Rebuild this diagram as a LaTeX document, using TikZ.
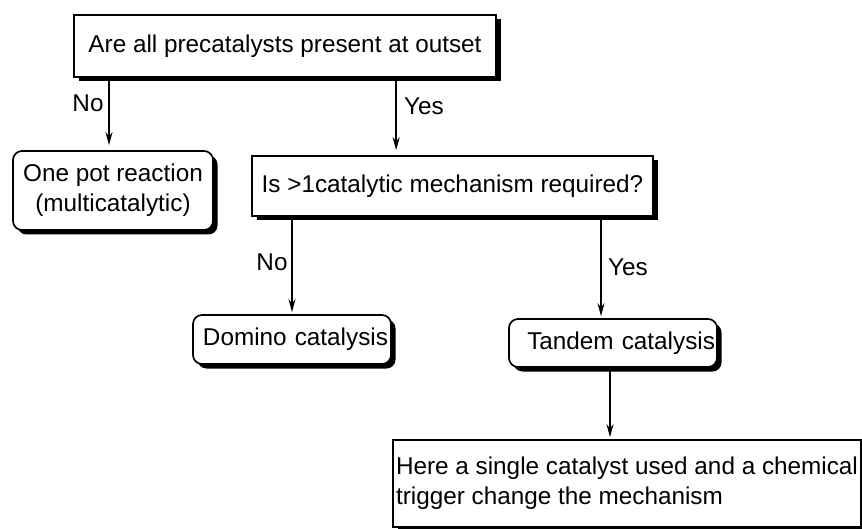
\documentclass[tikz,border=0pt]{standalone}
\usepackage{fontspec}
\setmainfont{Liberation Sans}
\usetikzlibrary{shadows,arrows.meta,calc}
\begin{document}
\begin{tikzpicture}[x=1pt,y=-1pt,
  font=\fontsize{24.3}{30}\selectfont,
  box/.style={draw=black, line width=1.7pt, fill=white, inner sep=0pt,
    drop shadow={shadow xshift=4.5pt, shadow yshift=-4.5pt, fill=black, opacity=1}},
  roundbox/.style={box, rounded corners=9pt},
  arr/.style={line width=1.7pt, -{Stealth[length=13pt,width=7pt]}},
  lbl/.style={inner sep=0pt}]

\path[use as bounding box] (0,0) rectangle (862,529);

% decision and outcome boxes
\node[box, minimum width=422pt, minimum height=62pt] (q1) at (285,46)
  {Are all precatalysts present at outset};
\node[roundbox, minimum width=200pt, minimum height=79pt, align=center] (pot) at (113,190.5)
  {One pot reaction\\(multicatalytic)};
\node[box, minimum width=401pt, minimum height=60pt] (q2) at (452.5,186)
  {Is >1catalytic mechanism required?};
\node[roundbox, minimum height=49pt, inner xsep=3pt, text width=192pt, align=right] (dom) at (292,339.5)
  {Domino catalysis};
\node[roundbox, minimum height=48pt, inner xsep=2pt, text width=204pt, align=right] (tan) at (613,343)
  {Tandem catalysis};
\node[box, minimum width=468pt, minimum height=87pt, align=left] (last) at (627,483.5)
  {Here a single catalyst used and a chemical\\trigger change the mechanism};

% connectors
\draw[arr, shorten >=5pt] ([xshift=-4pt]q1.south -| pot.north) -- ([xshift=-4pt]pot.north);
\draw[arr, shorten >=5pt] ([xshift=145pt]q2.north west |- q1.south) -- ([xshift=145pt]q2.north west);
\draw[arr, shorten >=2pt] (q2.south -| dom.north) -- (dom.north);
\draw[arr, shorten >=2pt] ([xshift=-12pt]tan.north |- q2.south) -- ([xshift=-12pt]tan.north);
\draw[arr, shorten >=2pt] ([xshift=-3pt]tan.south) -- ([xshift=-3pt]tan.south |- last.north);

% branch labels
\node[lbl] (no1) at (88,103) {No};
\node[lbl] (yes1) at (424,106) {Yes};
\node[lbl] (no2) at (272,262) {No};
\node[lbl] (yes2) at (628,267) {Yes};
\end{tikzpicture}
\end{document}
